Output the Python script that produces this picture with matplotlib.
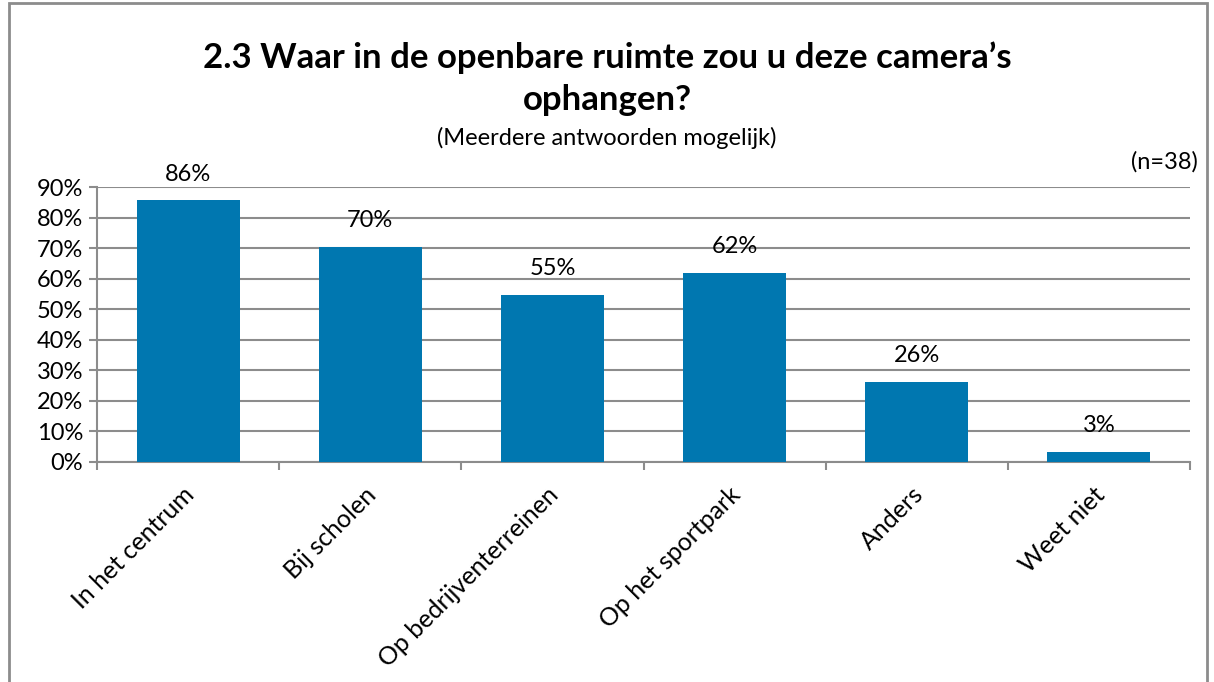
import matplotlib.pyplot as plt
from matplotlib.patches import Rectangle
from matplotlib.ticker import MultipleLocator, FuncFormatter

# data
categories = ["In het centrum", "Bij scholen", "Op bedrijventerreinen",
              "Op het sportpark", "Anders", "Weet niet"]
values = [85.6, 70.4, 54.8, 61.9, 26.2, 3.3]   # percent
labels = ["86%", "70%", "55%", "62%", "26%", "3%"]

BAR = "#0077b0"
GRID = "#8c8c8c"

plt.rcParams["font.family"] = ["Lato", "DejaVu Sans"]

fig = plt.figure(figsize=(12.14, 6.82), dpi=100)
# outer frame like the office chart border
fig.patches.append(Rectangle((9 / 1214, -0.05), 1198 / 1214, 1.05 - 3 / 682,
                             transform=fig.transFigure, fill=False,
                             edgecolor="#8c8c8c", linewidth=2))

ax = fig.add_axes([97 / 1214, 1 - 462 / 682, (1190 - 97) / 1214, 275 / 682])
x = range(len(categories))
ax.bar(x, values, width=0.565, color=BAR, zorder=3)
for i, (v, lab) in enumerate(zip(values, labels)):
    ax.annotate(lab, xy=(i, v), xytext=(0, 19), textcoords="offset points",
                ha="center", va="center", fontsize=17)

ax.set_xlim(-0.5, len(categories) - 0.5)
ax.set_ylim(0, 90)
ax.yaxis.set_major_locator(MultipleLocator(10))
ax.yaxis.set_major_formatter(FuncFormatter(lambda v, p: f"{v:.0f}%"))
ax.grid(axis="y", color=GRID, linewidth=1.5, zorder=0)
for s in ["top", "right"]:
    ax.spines[s].set_visible(False)
for s in ["left", "bottom"]:
    ax.spines[s].set_color(GRID)
    ax.spines[s].set_linewidth(1.5)

ax.set_xticks([i + 0.5 for i in range(-1, len(categories))], minor=False)
ax.set_xticklabels([])
ax.tick_params(axis="x", length=6, color=GRID, width=1.5)
ax.tick_params(axis="y", length=6, color=GRID, width=1.5, labelsize=17, pad=4)
for i, c in enumerate(categories):
    ax.annotate(c, xy=(i, 0), xycoords=("data", "axes fraction"),
                xytext=(-4, -15), textcoords="offset points",
                rotation=45, ha="right", va="top", fontsize=18,
                rotation_mode="anchor")

fig.text(0.5, 1 - 58 / 682, "2.3 Waar in de openbare ruimte zou u deze camera\u2019s",
         ha="center", va="center", fontsize=25, fontweight="bold")
fig.text(0.5, 1 - 100 / 682, "ophangen?", ha="center", va="center",
         fontsize=25, fontweight="bold")
fig.text(0.5, 1 - 138 / 682, "(Meerdere antwoorden mogelijk)", ha="center",
         va="center", fontsize=17)
fig.text(1198 / 1214, 1 - 162 / 682, "(n=38)", ha="right", va="center",
         fontsize=17)

fig.savefig("out.png", dpi=100)
